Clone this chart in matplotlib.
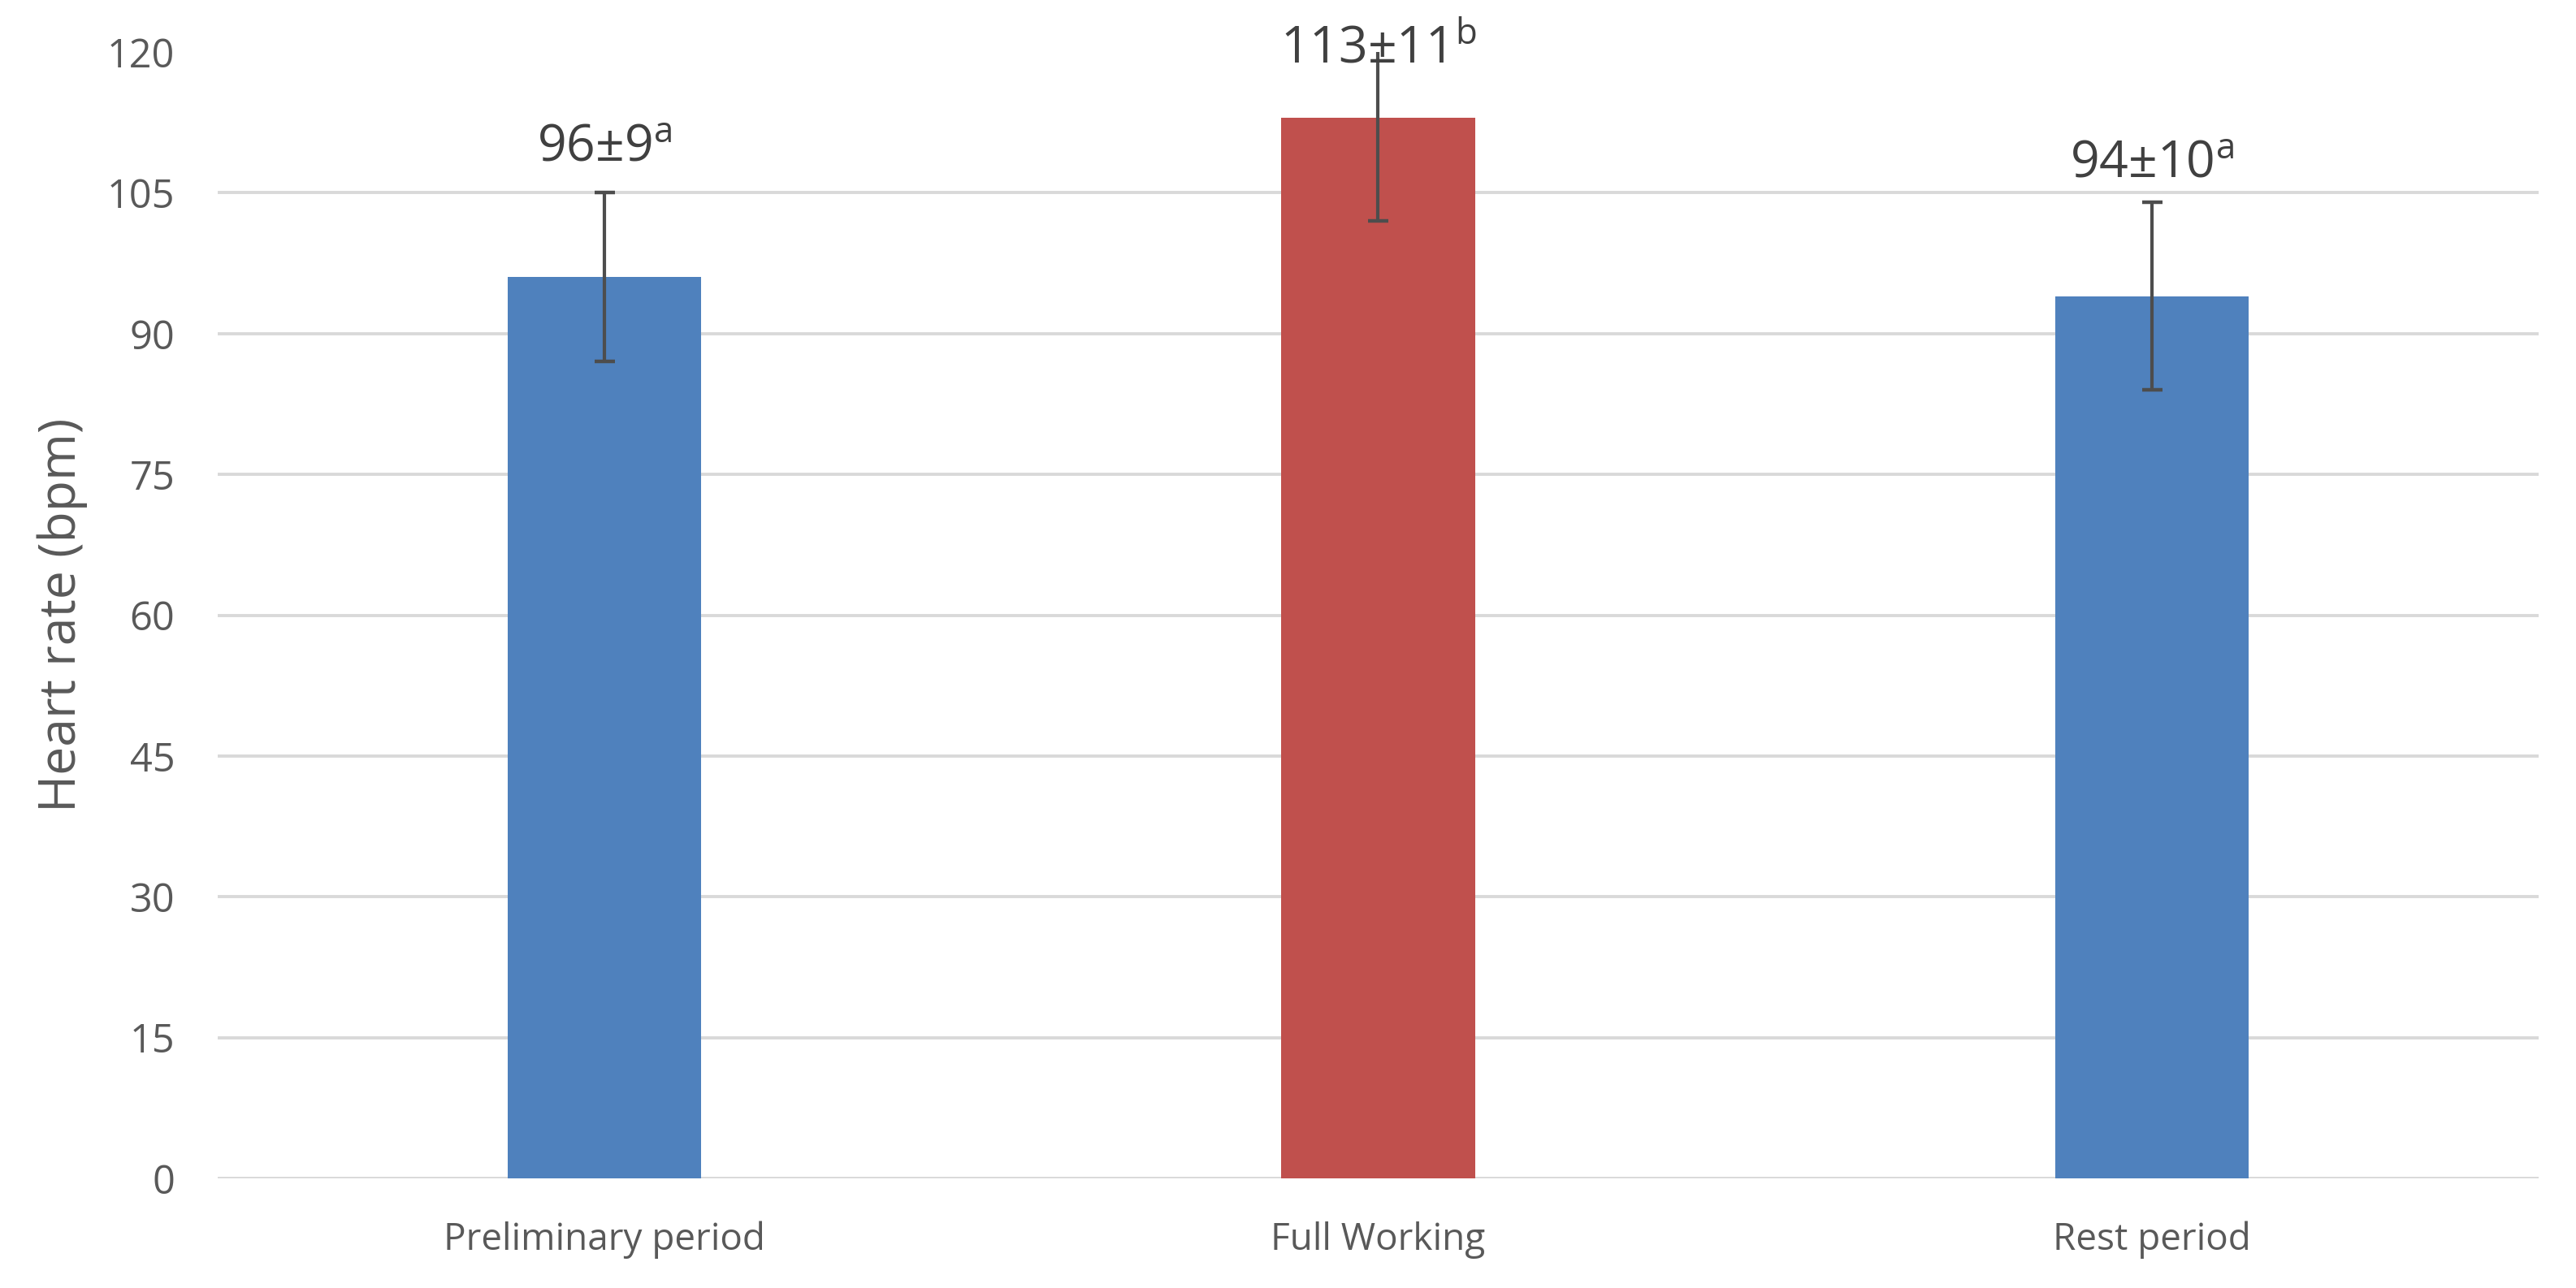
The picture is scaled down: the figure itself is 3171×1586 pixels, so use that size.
import numpy as np
import matplotlib
matplotlib.use("Agg")
import matplotlib.pyplot as plt

# Data
periods = ["Preliminary period", "Full Working", "Rest period"]
heart_rate_mean = [96, 113, 94]
heart_rate_sd = [9, 11, 10]
group_letters = ["a", "b", "a"]

# label offsets above the error bar top (points), clipped to the axis top
label_offsets = [28, -10, 22]

plt.rcParams['font.family'] = ['Open Sans', 'DejaVu Sans']
plt.rcParams['mathtext.fontset'] = 'custom'
plt.rcParams['mathtext.rm'] = 'Open Sans'

bar_colors = ['#4F81BD', '#C0504D', '#4F81BD']
grid_color = '#D9D9D9'
text_color = '#595959'
label_color = '#404040'

fig = plt.figure(figsize=(31.71, 15.86), dpi=100)
ax = fig.add_axes([0.0845, 0.0851, 0.901, 0.8745])

x = np.arange(len(periods))
ax.bar(x, heart_rate_mean, width=0.25, color=bar_colors, zorder=3)
ax.errorbar(x, heart_rate_mean, yerr=heart_rate_sd, fmt='none',
            ecolor='#4D4D4D', elinewidth=3, capsize=9, capthick=3.2, zorder=4)

ymax = 120
for xi, m, s, letter, off in zip(x, heart_rate_mean, heart_rate_sd, group_letters, label_offsets):
    ax.annotate(f"{m}±{s}$^{{\\mathrm{{{letter}}}}}$",
                xy=(xi, min(m + s, ymax)), xytext=(0, off),
                textcoords='offset points', ha='center', va='baseline',
                fontsize=45, color=label_color, zorder=5, annotation_clip=False)

ax.set_xlim(-0.5, len(periods) - 0.5)
ax.set_ylim(0, ymax)
ax.set_yticks(np.arange(0, ymax + 1, 15))
ax.set_xticks(x)
ax.set_xticklabels(periods)

ax.yaxis.grid(True, color=grid_color, linewidth=2.8, zorder=0)
ax.yaxis.get_gridlines()[-1].set_visible(False)
for spine in ax.spines.values():
    spine.set_visible(False)

ax.tick_params(axis='y', length=0, pad=38, labelsize=35, labelcolor=text_color)
ax.tick_params(axis='x', length=0, pad=38, labelsize=33, labelcolor=text_color)

ax.set_ylabel('Heart rate (bpm)', fontsize=45, color=text_color)
ax.yaxis.set_label_coords(-0.056, 0.5)

fig.savefig('out.png', dpi=100, facecolor='white')
